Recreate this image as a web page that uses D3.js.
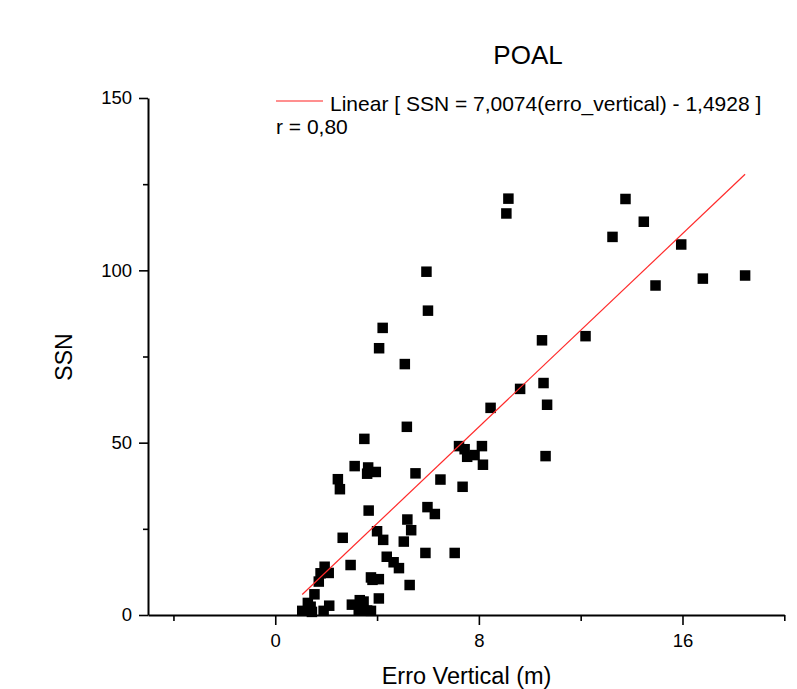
<!DOCTYPE html>
<html>
<head>
<meta charset="utf-8">
<script src="https://cdn.jsdelivr.net/npm/d3@7"></script>
<style>
  html, body { margin: 0; padding: 0; background: #fff; }
  svg text { font-family: "Liberation Sans", Arial, Helvetica, sans-serif; fill: #000; }
</style>
</head>
<body>
<svg id="chart" width="797" height="689"></svg>
<script>
// values
const erroVertical = [
  9.16, 9.08, 13.76, 14.48, 13.25, 15.95, 14.94, 16.80, 18.46, 5.94,
  6.00, 4.22, 4.08, 5.09, 12.19, 10.48, 10.54, 9.62, 10.68, 8.46,
  10.62, 7.22, 7.44, 7.54, 7.83, 8.12, 8.16, 5.17, 3.50, 3.12,
  3.65, 3.61, 3.95, 2.46, 2.54, 5.51, 6.49, 7.36, 3.67, 5.98,
  6.27, 5.19, 5.34, 4.00, 4.24, 5.05, 2.65, 5.90, 7.05, 4.38,
  4.65, 4.86, 2.96, 1.94, 1.78, 2.10, 1.71, 3.76, 3.82, 4.07,
  5.28, 1.54, 4.07, 1.28, 1.39, 2.12, 1.06, 1.44, 1.90, 3.01,
  3.32, 3.47, 3.28, 3.61, 3.76
];
const ssn = [
  120.8, 116.5, 120.7, 114.1, 109.7, 107.5, 95.6, 97.6, 98.5, 99.6,
  88.3, 83.3, 77.4, 72.8, 80.9, 79.7, 67.3, 65.6, 61.0, 60.1,
  46.1, 49.0, 48.1, 45.9, 46.4, 49.0, 43.6, 54.6, 51.1, 43.2,
  42.8, 41.0, 41.5, 39.4, 36.5, 41.1, 39.3, 37.2, 30.3, 31.3,
  29.3, 27.7, 24.6, 24.3, 21.8, 21.3, 22.4, 18.0, 18.0, 16.9,
  15.3, 13.6, 14.5, 14.0, 12.1, 12.2, 9.7, 10.9, 10.2, 10.4,
  8.7, 6.0, 4.8, 3.5, 2.4, 2.7, 1.2, 0.9, 1.2, 3.0,
  4.3, 3.9, 1.5, 1.3, 1.2
];
const slope = 7.0074;
const intercept = -1.4928;

const xMajorTicks = [0, 8, 16];
const xMinorTicks = [-4, 4, 12, 20];
const yMajorTicks = [0, 50, 100, 150];
const yMinorTicks = [25, 75, 125];

const svg = d3.select("#chart");

const xScale = d3.scaleLinear([-5, 20], [148, 784.3]);
const yScale = d3.scaleLinear([0, 150], [615, 98]);

// x axis
const gx = svg.append("g").attr("transform", `translate(0,${yScale(0)})`);
gx.call(d3.axisBottom(xScale).tickValues(xMinorTicks).tickSize(6).tickSizeOuter(0).tickFormat(""));
gx.append("g").call(d3.axisBottom(xScale).tickValues(xMajorTicks).tickSize(10).tickSizeOuter(0).tickPadding(9))
  .call(g => g.select(".domain").remove());

// y axis
const gy = svg.append("g").attr("transform", `translate(${xScale(-5)},0)`);
gy.call(d3.axisLeft(yScale).tickValues(yMinorTicks).tickSize(5).tickSizeOuter(0).tickFormat(""));
gy.append("g").call(d3.axisLeft(yScale).tickValues(yMajorTicks).tickSize(9).tickSizeOuter(0).tickPadding(7))
  .call(g => g.select(".domain").remove());

svg.selectAll(".domain").attr("stroke", "#000").attr("stroke-width", 2);
svg.selectAll(".tick line").attr("stroke", "#000").attr("stroke-width", 1.6);
svg.selectAll(".tick text")
  .attr("font-size", "18.5px")
  .attr("font-family", "Liberation Sans, Arial, sans-serif");

// points
const points = erroVertical.map((x, i) => ({ x: x, y: ssn[i] }));
const size = 10.5;
svg.append("g")
  .selectAll("rect")
  .data(points)
  .join("rect")
  .attr("x", d => xScale(d.x) - size / 2)
  .attr("y", d => yScale(d.y) - size / 2)
  .attr("width", size)
  .attr("height", size)
  .attr("fill", "#000");

// fit line
const [xMin, xMax] = d3.extent(erroVertical);
const fit = [xMin, xMax].map(x => ({ x: x, y: slope * x + intercept }));
svg.append("path")
  .datum(fit)
  .attr("fill", "none")
  .attr("stroke", "#ff2a2a")
  .attr("stroke-width", 1.2)
  .attr("d", d3.line().x(d => xScale(d.x)).y(d => yScale(d.y)));

// title and axis labels
svg.append("text")
  .attr("x", 528).attr("y", 64)
  .attr("text-anchor", "middle")
  .attr("font-size", "26px")
  .text("POAL");

svg.append("text")
  .attr("x", 466.5).attr("y", 684)
  .attr("text-anchor", "middle")
  .attr("font-size", "23.5px")
  .text("Erro Vertical (m)");

svg.append("text")
  .attr("transform", "translate(72,357) rotate(-90)")
  .attr("text-anchor", "middle")
  .attr("font-size", "23px")
  .text("SSN");

// legend
svg.append("line")
  .attr("x1", 276).attr("x2", 323)
  .attr("y1", 101).attr("y2", 101)
  .attr("stroke", "#ff6a6a")
  .attr("stroke-width", 1.5);

svg.append("text")
  .attr("x", 330).attr("y", 110.5)
  .attr("font-size", "21px")
  .text("Linear [ SSN = 7,0074(erro_vertical) - 1,4928 ]");

svg.append("text")
  .attr("x", 276).attr("y", 134)
  .attr("font-size", "21px")
  .text("r = 0,80");
</script>
</body>
</html>
